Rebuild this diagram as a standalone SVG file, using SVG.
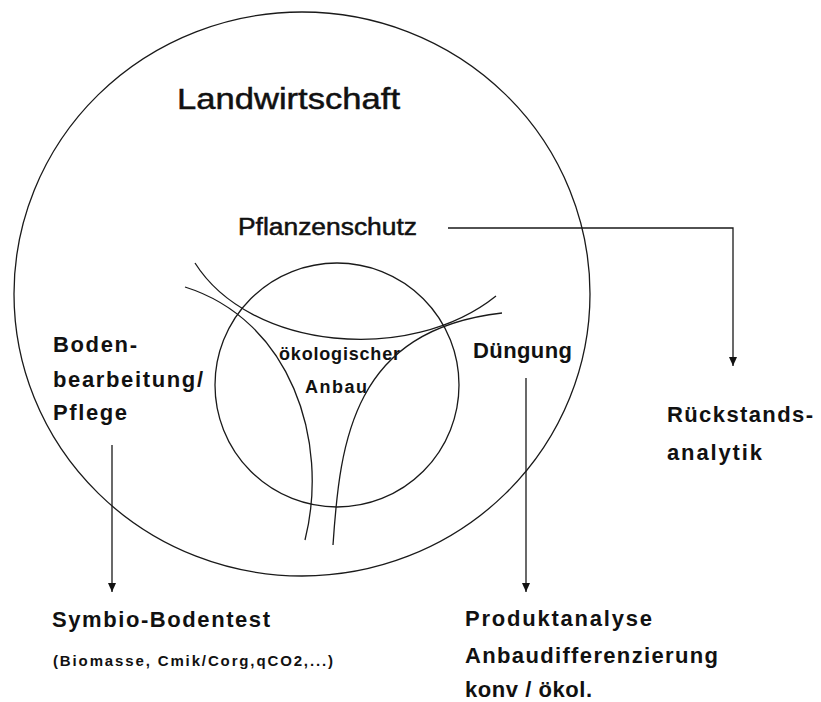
<svg xmlns="http://www.w3.org/2000/svg" width="821" height="702" viewBox="0 0 821 702">
<style>
.ln{fill:none;stroke:#1a1a1a;stroke-width:1.3}
.t{font-family:"Liberation Sans",Arial,sans-serif;fill:#111}
.b{font-weight:bold}
.m{stroke:#111;stroke-width:0.5}
</style>
<defs>
<marker id="ah" markerUnits="userSpaceOnUse" markerWidth="10" markerHeight="10" refX="9" refY="4" orient="auto">
<path d="M0,0 L9,4 L0,8 z" fill="#111"/>
</marker>
</defs>
<rect width="821" height="702" fill="#fff"/>
<g id="landwirtschaft">
<ellipse class="ln" cx="302" cy="294" rx="288" ry="282"/>
<text class="t m" x="177" y="109" font-size="30" textLength="223" lengthAdjust="spacingAndGlyphs">Landwirtschaft</text>
</g>
<g id="oekologischer-anbau">
<circle class="ln" cx="337" cy="385" r="122"/>
<text class="t b" x="279" y="360" font-size="18" textLength="121" lengthAdjust="spacing">ökologischer</text>
<text class="t b" x="305" y="393" font-size="18" textLength="62" lengthAdjust="spacing">Anbau</text>
</g>
<g id="curves">
<path class="ln" d="M195,263 C250,350 410,365 496,296"/>
<path class="ln" d="M185,287 C290,320 330,440 305,540"/>
<path class="ln" d="M502,313 C353,330 340,440 333,545"/>
</g>
<g id="pflanzenschutz">
<text class="t m" x="238" y="235" font-size="23" textLength="179" lengthAdjust="spacingAndGlyphs">Pflanzenschutz</text>
</g>
<g id="bodenbearbeitung">
<text class="t b" x="53" y="352" font-size="22" textLength="84" lengthAdjust="spacing">Boden-</text>
<text class="t b" x="53" y="387" font-size="22" textLength="150" lengthAdjust="spacing">bearbeitung/</text>
<text class="t b" x="53" y="420" font-size="22" textLength="74" lengthAdjust="spacing">Pflege</text>
</g>
<g id="duengung">
<text class="t b" x="473" y="358" font-size="22" textLength="99" lengthAdjust="spacing">Düngung</text>
</g>
<g id="rueckstandsanalytik">
<text class="t b" x="667" y="422" font-size="22" textLength="146" lengthAdjust="spacing">Rückstands-</text>
<text class="t b" x="667" y="460" font-size="22" textLength="95" lengthAdjust="spacing">analytik</text>
</g>
<g id="symbio-bodentest">
<text class="t b" x="52" y="627" font-size="22" textLength="218" lengthAdjust="spacing">Symbio-Bodentest</text>
<text class="t b" x="53" y="666" font-size="15" textLength="280" lengthAdjust="spacing">(Biomasse, Cmik/Corg,qCO2,...)</text>
</g>
<g id="produktanalyse">
<text class="t b" x="465" y="626" font-size="22" textLength="187" lengthAdjust="spacing">Produktanalyse</text>
<text class="t b" x="465" y="663" font-size="22" textLength="253" lengthAdjust="spacing">Anbaudifferenzierung</text>
<text class="t b" x="465" y="697" font-size="22" textLength="127" lengthAdjust="spacing">konv / ökol.</text>
</g>
<g id="connectors">
<path class="ln" d="M448,228 H733 V366" marker-end="url(#ah)"/>
<path class="ln" d="M112,445 V592" marker-end="url(#ah)"/>
<path class="ln" d="M526,378 V592" marker-end="url(#ah)"/>
</g>
</svg>
